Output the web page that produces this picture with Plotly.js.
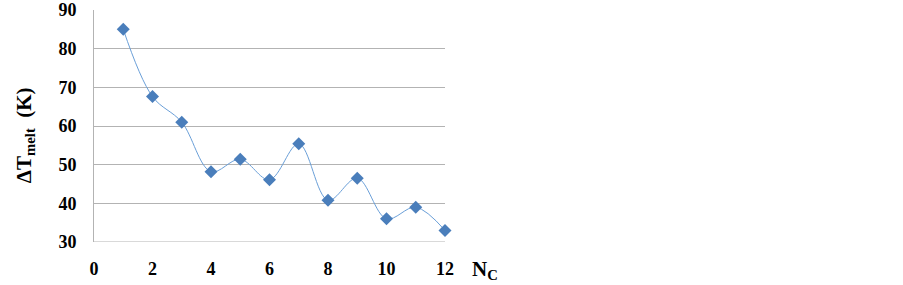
<!DOCTYPE html>
<html>
<head>
<meta charset="utf-8">
<script src="https://cdn.plot.ly/plotly-3.0.1.min.js"></script>
<style>html,body{margin:0;padding:0;background:#fff;}#chart{width:903px;height:285px;}</style>
</head>
<body>
<div id="chart"></div>
<script>
const nc = [1, 2, 3, 4, 5, 6, 7, 8, 9, 10, 11, 12];
const dTmelt = [85.0, 67.6, 61.0, 48.2, 51.4, 46.1, 55.4, 40.8, 46.5, 36.0, 39.0, 33.0];
const xTicks = [0, 2, 4, 6, 8, 10, 12];
const yTicks = [30, 40, 50, 60, 70, 80, 90];

const fam = 'Liberation Serif';

Plotly.newPlot('chart', [{
  x: nc, y: dTmelt, type: 'scatter', mode: 'lines+markers', cliponaxis: false,
  line: {shape: 'spline', smoothing: 1, color: '#6a9fd8', width: 1},
  marker: {symbol: 'diamond', size: 10, color: '#4a7ebb', line: {width: 0}}
}], {
  width: 903, height: 285,
  margin: {l: 94, r: 458, t: 10, b: 43},
  paper_bgcolor: '#fff', plot_bgcolor: '#fff',
  showlegend: false,
  font: {family: fam, size: 18, color: '#000', weight: 'bold'},
  xaxis: {
    range: [0, 12], tickvals: xTicks, ticktext: xTicks.map(v => '<b>' + v + '</b>'),
    showgrid: false, zeroline: false, showline: false,
    ticks: 'outside', ticklen: 10, tickcolor: 'rgba(0,0,0,0)',
    tickfont: {family: fam, size: 18, color: '#000', weight: 'bold'}
  },
  yaxis: {
    range: [30, 90], tickvals: yTicks, ticktext: yTicks.map(v => '<b>' + v + '</b>'),
    showgrid: true, gridcolor: '#b3b3b3', gridwidth: 1,
    zeroline: false, showline: true, linecolor: '#b3b3b3', linewidth: 1,
    ticks: 'outside', ticklen: 13, tickcolor: 'rgba(0,0,0,0)',
    tickfont: {family: fam, size: 18, color: '#000', weight: 'bold'}
  },
  shapes: [{type: 'line', xref: 'paper', yref: 'y', x0: 0, x1: 1, y0: 30, y1: 30, line: {color: '#b3b3b3', width: 1}}],
  annotations: [
    {text: '<b>ΔT<sub>melt</sub>  (K)</b>', textangle: -90, xref: 'paper', yref: 'paper',
     x: -0.197, y: 0.46, xanchor: 'center', yanchor: 'middle', showarrow: false,
     font: {family: fam, size: 21, color: '#000'}},
    {text: '<b>N<sub>C</sub></b>', xref: 'paper', yref: 'paper',
     x: 1.115, y: -0.12, xanchor: 'center', yanchor: 'middle', showarrow: false,
     font: {family: fam, size: 21, color: '#000'}}
  ]
}, {displayModeBar: false, staticPlot: true});
</script>
</body>
</html>
